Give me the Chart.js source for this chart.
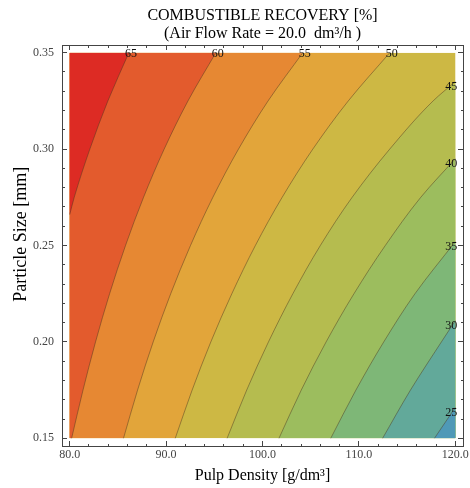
<!DOCTYPE html>
<html>
<head>
<meta charset="utf-8">
<script src="https://cdn.jsdelivr.net/npm/chart.js@4.4.1/dist/chart.umd.min.js"></script>
<style>
  html, body { margin: 0; padding: 0; background: #ffffff; }
  #wrap { width: 470px; height: 488px; }
</style>
</head>
<body>
<div id="wrap"><canvas id="chart"></canvas></div>
<script>
// Domain of the response surface
const pulpRange = [80, 120];      // g/dm3
const sizeRange = [0.15, 0.35];   // mm

// Labelled tick positions
const xMajorTicks = [80, 90, 100, 110, 120];
const yMajorTicks = [0.15, 0.20, 0.25, 0.30, 0.35];

// Contour levels of combustible recovery [%], highest first
const levels = [65, 60, 55, 50, 45, 40, 35, 30, 25];

// Band colours from the top band (> 65 %) down to the bottom band (< 25 %)
const bandColors = ['#dd2b24', '#e35b2d', '#e68833', '#e2a53a', '#cdb844',
                    '#b5bc4f', '#9cbd5e', '#7eb777', '#62a99a', '#4f99b7'];

// Contour lines as [pulp density, particle size] pairs, particle size increasing
const contour65 = [[80.00, 0.266], [80.47, 0.275], [82.09, 0.300], [83.96, 0.325], [86.14, 0.350]];
const contour60 = [[80.20, 0.150], [81.38, 0.175], [82.68, 0.200], [84.14, 0.225], [85.79, 0.250],
                   [87.66, 0.275], [89.80, 0.300], [92.27, 0.325], [95.16, 0.350]];
const contour55 = [[85.58, 0.150], [87.04, 0.175], [88.66, 0.200], [90.48, 0.225], [92.53, 0.250],
                   [94.85, 0.275], [97.51, 0.300], [100.58, 0.325], [104.18, 0.350]];
const contour50 = [[90.95, 0.150], [92.70, 0.175], [94.64, 0.200], [96.82, 0.225], [99.26, 0.250],
                   [102.04, 0.275], [105.22, 0.300], [108.90, 0.325], [113.20, 0.350]];
const contour45 = [[96.33, 0.150], [98.36, 0.175], [100.62, 0.200], [103.15, 0.225], [106.00, 0.250],
                   [109.30, 0.275], [113.20, 0.300], [117.70, 0.325], [120.00, 0.335]];
const contour40 = [[101.71, 0.150], [104.02, 0.175], [106.60, 0.200], [109.49, 0.225], [112.74, 0.250],
                   [116.42, 0.275], [120.00, 0.295]];
const contour35 = [[107.08, 0.150], [109.69, 0.175], [112.58, 0.200], [115.82, 0.225], [120.00, 0.252]];
const contour30 = [[112.46, 0.150], [115.35, 0.175], [118.56, 0.200], [120.00, 0.211]];
const contour25 = [[117.84, 0.150], [120.00, 0.166]];

const contours = [contour65, contour60, contour55, contour50, contour45,
                  contour40, contour35, contour30, contour25];

const xPad = 0.02 * (pulpRange[1] - pulpRange[0]);
const yPad = 0.02 * (sizeRange[1] - sizeRange[0]);
const near = (a, b) => Math.abs(a - b) < 1e-6;
const isMajor = (list, v) => list.some(t => near(t, v));
const toPoints = pairs => pairs.map(([x, y]) => ({ x, y }));
const endsOnTop = pairs => near(pairs[pairs.length - 1][1], sizeRange[1]);

// Contour strokes, traced along particle size
const lineSets = contours.map((pairs, i) => ({
  label: String(levels[i]),
  indexAxis: 'y',
  data: toPoints(pairs),
  borderColor: 'rgba(70, 50, 30, 0.45)',
  borderWidth: 1,
  pointRadius: 0,
  cubicInterpolationMode: 'monotone',
  fill: false
}));

// Contours that leave through the top edge paint the band above them (filled to
// the left edge); contours that leave through the right edge paint the band
// below them (filled to the right edge).
const upperSets = [];
const lowerSets = [];
contours.forEach((pairs, i) => {
  const top = endsOnTop(pairs);
  const set = {
    label: 'band ' + levels[i],
    indexAxis: 'y',
    data: toPoints(pairs),
    backgroundColor: top ? bandColors[i] : bandColors[i + 1],
    borderColor: 'rgba(0,0,0,0)',
    borderWidth: 0,
    pointRadius: 0,
    cubicInterpolationMode: 'monotone',
    fill: { value: top ? pulpRange[0] : pulpRange[1] }
  };
  (top ? upperSets : lowerSets).push(set);
});

// Middle band underneath everything
const baseSet = {
  label: 'band ' + levels[upperSets.length - 1] + '-' + levels[upperSets.length],
  indexAxis: 'y',
  data: [{ x: pulpRange[1], y: sizeRange[0] }, { x: pulpRange[1], y: sizeRange[1] }],
  backgroundColor: bandColors[upperSets.length],
  borderColor: 'rgba(0,0,0,0)',
  borderWidth: 0,
  pointRadius: 0,
  fill: { value: pulpRange[0] }
};

// Lower index is drawn later (on top)
const datasets = lineSets.concat(upperSets, lowerSets.reverse(), [baseSet]);

// Level numbers written at the end of each contour line
const contourLabels = {
  id: 'contourLabels',
  afterDatasetsDraw(chart) {
    const ctx = chart.ctx;
    ctx.save();
    ctx.font = '12px "Liberation Serif", "Times New Roman", serif';
    ctx.fillStyle = '#111';
    ctx.textAlign = 'center';
    ctx.textBaseline = 'middle';
    levels.forEach((lvl, i) => {
      const pts = chart.getDatasetMeta(i).data;
      const end = pts[pts.length - 1];
      let x = end.x, y = end.y;
      if (endsOnTop(contours[i])) { x += 2; y += 1; } else { x -= 4; y += 5; }
      ctx.fillText(String(lvl), x, y);
    });
    ctx.restore();
  }
};

const frameColor = '#444';
const tickFont = { family: 'Liberation Serif', size: 12 };
// Minor ticks are drawn as the first 3 px of the tick mark, measured from the frame
const dashFromFrame = major => major ? [] : [3, 20];
const dashFromInside = major => major ? [] : [0, 2, 3, 20];
const noEdgePadding = s => { s.paddingLeft = 0; s.paddingRight = 0; s.paddingTop = 0; s.paddingBottom = 0; };

new Chart(document.getElementById('chart'), {
  type: 'line',
  data: { datasets },
  plugins: [contourLabels],
  options: {
    responsive: true,
    maintainAspectRatio: false,
    animation: false,
    events: [],
    layout: { padding: 0 },
    plugins: {
      legend: { display: false },
      tooltip: { enabled: false },
      title: {
        display: true,
        fullSize: false,
        text: ['COMBUSTIBLE RECOVERY [%]', '(Air Flow Rate = 20.0  dm\u00B3/h )'],
        color: '#000',
        font: { family: 'Liberation Serif', size: 16, weight: 'normal', lineHeight: 1.15 },
        padding: { top: 6.5, bottom: 0 }
      }
    },
    scales: {
      x: {
        type: 'linear', position: 'bottom',
        min: pulpRange[0] - xPad, max: pulpRange[1] + xPad,
        afterFit: s => { s.height = 42; noEdgePadding(s); },
        ticks: {
          stepSize: 2, autoSkip: false, includeBounds: false, maxRotation: 0,
          padding: 7, color: frameColor, font: tickFont,
          callback: v => isMajor(xMajorTicks, v) ? v.toFixed(1) : ''
        },
        grid: {
          drawOnChartArea: false, tickLength: -5, tickColor: frameColor, tickWidth: 1,
          tickBorderDash: c => dashFromFrame(isMajor(xMajorTicks, c.tick.value))
        },
        border: { display: true, color: frameColor, width: 1 },
        title: {
          display: true, text: 'Pulp Density [g/dm\u00B3]', color: '#000',
          font: { family: 'Liberation Serif', size: 16 }, padding: { top: 0, bottom: 3 }
        }
      },
      x2: {
        type: 'linear', position: 'top',
        min: pulpRange[0] - xPad, max: pulpRange[1] + xPad,
        afterFit: s => { s.height = 1.7; noEdgePadding(s); },
        ticks: { stepSize: 2, includeBounds: false, display: false },
        grid: {
          drawOnChartArea: false, tickLength: -5, tickColor: frameColor, tickWidth: 1,
          tickBorderDash: c => dashFromInside(isMajor(xMajorTicks, c.tick.value))
        },
        border: { display: true, color: frameColor, width: 1 }
      },
      y: {
        type: 'linear', position: 'left',
        min: sizeRange[0] - yPad, max: sizeRange[1] + yPad,
        afterFit: s => { s.width = 62; noEdgePadding(s); },
        ticks: {
          stepSize: 0.01, autoSkip: false, includeBounds: false,
          padding: 13, color: frameColor, font: tickFont,
          callback: v => isMajor(yMajorTicks, v) ? v.toFixed(2) : ''
        },
        grid: {
          drawOnChartArea: false, tickLength: -5, tickColor: frameColor, tickWidth: 1,
          tickBorderDash: c => dashFromInside(isMajor(yMajorTicks, c.tick.value))
        },
        border: { display: true, color: frameColor, width: 1 },
        title: {
          display: true, text: '     Particle Size [mm]', color: '#000',
          font: { family: 'Liberation Serif', size: 18 }, padding: { top: 10.5, bottom: 0 }
        }
      },
      y2: {
        type: 'linear', position: 'right',
        min: sizeRange[0] - yPad, max: sizeRange[1] + yPad,
        afterFit: s => { s.width = 7; noEdgePadding(s); },
        ticks: { stepSize: 0.01, includeBounds: false, display: false },
        grid: {
          drawOnChartArea: false, tickLength: -5, tickColor: frameColor, tickWidth: 1,
          tickBorderDash: c => dashFromFrame(isMajor(yMajorTicks, c.tick.value))
        },
        border: { display: true, color: frameColor, width: 1 }
      }
    }
  }
});
</script>
</body>
</html>
